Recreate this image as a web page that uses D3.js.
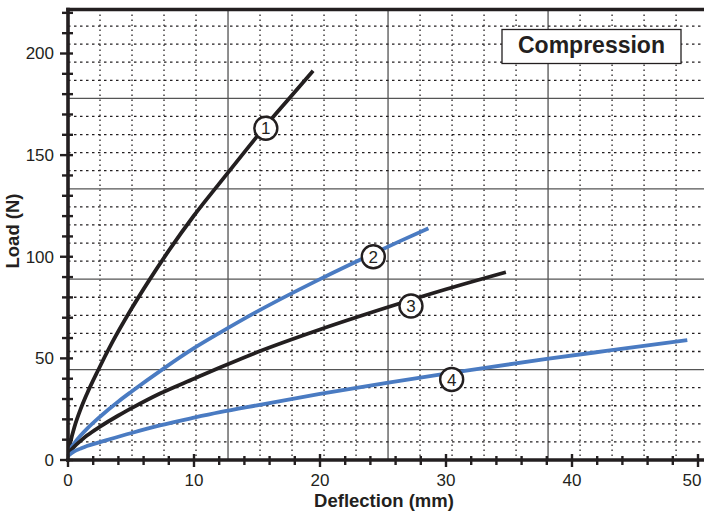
<!DOCTYPE html>
<html><head><meta charset="utf-8">
<script src="https://cdn.jsdelivr.net/npm/d3@7"></script>
<style>
html,body{margin:0;padding:0;background:#fff;}
svg{display:block;}
text{font-family:"Liberation Sans",Arial,Helvetica,sans-serif;fill:#231f20;}
</style></head>
<body>
<script>
// ---- data ----
const xTickLabels = [0, 10, 20, 30, 40, 50];
const yTickLabels = [0, 50, 100, 150, 200];

const curve1X = [0, 0.2, 0.5, 1, 1.5, 2.4, 3.5, 5, 6.4, 8, 10, 12, 14, 15.7, 17.5, 19.45];
const curve1Y = [3, 9, 16, 25, 32.5, 44.3, 57.7, 74, 88, 103, 120.3, 136, 151.5, 164.5, 177.5, 191.5];

const curve2X = [0, 0.2, 0.5, 1, 1.5, 2.54, 4, 5.05, 7.5, 10, 12, 15, 20, 24.2, 26.35, 28.6];
const curve2Y = [3, 5.5, 8.2, 12, 15.3, 21.3, 28.8, 33.7, 44.6, 55, 62.4, 73, 89, 101.5, 107.7, 114];

const curve3X = [0, 0.2, 0.5, 1, 1.5, 2.54, 4, 5.05, 7.3, 10, 12.06, 15, 20, 25.3, 30, 34.75];
const curve3Y = [3, 4.6, 6.6, 9.4, 12, 16.4, 21.9, 25.5, 32.7, 40, 45.5, 53, 64.2, 75, 84, 92.4];

const curve4X = [0, 0.2, 0.5, 1, 1.5, 2.54, 5.05, 7.3, 10, 12.06, 15, 20, 25.3, 30, 32.7, 38, 43, 49.15];
const curve4Y = [2, 3, 4.2, 5.6, 6.9, 8.8, 13.3, 17, 20.8, 23.5, 26.9, 32.5, 38, 42.5, 45, 49.7, 53.9, 59];

const curveNames = ["1", "2", "3", "4"];
const labelX = [15.7, 24.23, 27.22, 30.45];
const labelY = [163.2, 100.0, 75.8, 39.6];
const titleText = "Compression";

// ---- layout ----
const W = 704, H = 516;
const x0 = 68, x1 = 704, yTop = 9.5, yBot = 460;
const BLACK = "#231f20", BLUE = "#4a7bc2";

const x = d3.scaleLinear().domain([0, (x1 - x0) / 12.6]).range([x0, x1]);
const y = d3.scaleLinear().domain([0, (yBot - yTop) / 2.0325]).range([yBot, yTop]);

const svg = d3.select("body").append("svg").attr("width", W).attr("height", H);

svg.append("clipPath").attr("id", "plot").append("rect")
  .attr("x", x0).attr("y", yTop).attr("width", x1 - x0).attr("height", yBot - yTop);

const grid = svg.append("g").attr("clip-path", "url(#plot)");
// secondary grid: 0.1 in (2.54 mm) and 2 lbf (8.896 N)
const vGrid = d3.range(1, 20).map(k => ({v: k * 2.54, major: k % 5 === 0}));
const hGrid = d3.range(1, 25).map(k => ({v: k * 8.896, major: k % 5 === 0}));

grid.selectAll(".vg").data(vGrid).join("line")
  .attr("x1", d => x(d.v)).attr("x2", d => x(d.v))
  .attr("y1", yTop).attr("y2", yBot)
  .attr("stroke", d => d.major ? "#444" : "#231f20")
  .attr("stroke-width", d => d.major ? 1.2 : 1.3)
  .attr("stroke-dasharray", d => d.major ? null : "1.5,3.5");
grid.selectAll(".hg").data(hGrid).join("line")
  .attr("y1", d => y(d.v)).attr("y2", d => y(d.v))
  .attr("x1", x0).attr("x2", x1)
  .attr("stroke", d => d.major ? "#555" : "#231f20")
  .attr("stroke-width", d => d.major ? 1.2 : 1.3)
  .attr("stroke-dasharray", d => d.major ? null : "2.5,3.5");

// curves
const curves = [
  {xs: curve1X, ys: curve1Y, c: BLACK},
  {xs: curve2X, ys: curve2Y, c: BLUE},
  {xs: curve3X, ys: curve3Y, c: BLACK},
  {xs: curve4X, ys: curve4Y, c: BLUE}
];
const line = d3.line().x(d => x(d[0])).y(d => y(d[1])).curve(d3.curveMonotoneX);
const cg = svg.append("g").attr("clip-path", "url(#plot)");
curves.forEach(cv => {
  cg.append("path").datum(cv.xs.map((v, i) => [v, cv.ys[i]]))
    .attr("d", line).attr("fill", "none")
    .attr("stroke", cv.c).attr("stroke-width", 3.8)
    .attr("stroke-linecap", "butt").attr("stroke-linejoin", "round");
});

// axes
const yMinor = d3.range(0, 221, 10);
const xMinor = d3.range(0, 51, 2);
const axG = svg.append("g");
const yAxis = d3.axisLeft(y).tickValues(yMinor).tickSize(0).tickFormat("");
axG.append("g").attr("transform", `translate(${x0},0)`).call(yAxis).select(".domain").remove();
axG.selectAll(".ytk").data(yMinor).join("line")
  .attr("x1", d => d % 50 === 0 ? x0 - 8 : x0 - 6).attr("x2", x0 + 5)
  .attr("y1", d => y(d)).attr("y2", d => y(d))
  .attr("stroke", BLACK).attr("stroke-width", 2.4);
axG.selectAll(".xtk").data(xMinor).join("line")
  .attr("x1", d => x(d)).attr("x2", d => x(d))
  .attr("y1", d => d % 10 === 0 ? yBot - 6 : yBot - 4)
  .attr("y2", d => d % 10 === 0 ? yBot + 7 : yBot + 5)
  .attr("stroke", BLACK).attr("stroke-width", 2.4);

// frame lines
axG.append("line").attr("x1", x0).attr("x2", x0).attr("y1", yTop - 1.8).attr("y2", yBot + 1.8)
  .attr("stroke", BLACK).attr("stroke-width", 3.6);
axG.append("line").attr("x1", x0 - 1.8).attr("x2", x1).attr("y1", yBot).attr("y2", yBot)
  .attr("stroke", BLACK).attr("stroke-width", 3.6);
axG.append("line").attr("x1", x0 - 1.8).attr("x2", x1).attr("y1", yTop).attr("y2", yTop)
  .attr("stroke", BLACK).attr("stroke-width", 3.6);

// tick labels
svg.selectAll(".yl").data(yTickLabels).join("text")
  .attr("x", 54).attr("y", d => y(d)).attr("dy", "0.35em")
  .attr("text-anchor", "end").attr("font-size", 17).text(d => d);
svg.selectAll(".xl").data(xTickLabels).join("text")
  .attr("x", d => Math.min(x(d), 692)).attr("y", 486)
  .attr("text-anchor", "middle").attr("font-size", 17).text(d => d);

// axis titles
svg.append("text").attr("x", 384).attr("y", 507).attr("text-anchor", "middle")
  .attr("font-size", 18.5).attr("font-weight", "bold").text("Deflection (mm)");
svg.append("text").attr("transform", "translate(18.5,231) rotate(-90)")
  .attr("text-anchor", "middle").attr("font-size", 18.5).attr("font-weight", "bold").text("Load (N)");

// curve labels
const lg = svg.append("g");
curveNames.forEach((n, i) => {
  lg.append("circle").attr("cx", x(labelX[i])).attr("cy", y(labelY[i])).attr("r", 11.5)
    .attr("fill", "#fff").attr("stroke", BLACK).attr("stroke-width", 2.4);
  lg.append("text").attr("x", x(labelX[i])).attr("y", y(labelY[i])).attr("dy", "0.36em")
    .attr("text-anchor", "middle").attr("font-size", 17).text(n);
});

// title box
svg.append("rect").attr("x", 502).attr("y", 29.5).attr("width", 179).attr("height", 34)
  .attr("fill", "#fff").attr("stroke", BLACK).attr("stroke-width", 1.3);
svg.append("text").attr("x", 591.5).attr("y", 53).attr("text-anchor", "middle")
  .attr("font-size", 23).attr("font-weight", "bold").text(titleText);
</script>
</body></html>
